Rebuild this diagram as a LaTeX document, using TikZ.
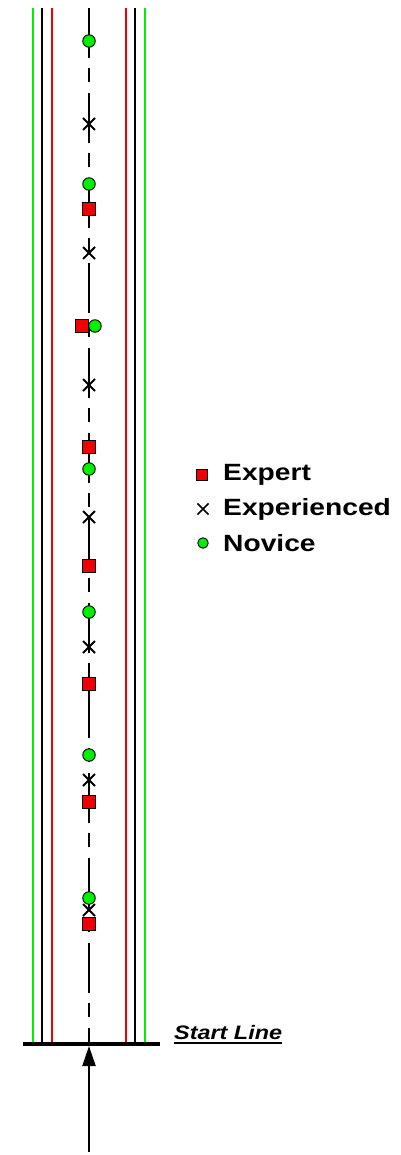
\documentclass[tikz,border=0pt]{standalone}
\usepackage{fontspec}
\setmainfont{Liberation Sans}
\newfontfamily\legfont[FakeStretch=1.2]{Liberation Sans}
\usetikzlibrary{shapes.misc,arrows.meta}
\definecolor{lgreen}{RGB}{0,240,0}
\definecolor{lred}{RGB}{240,0,0}
\tikzset{
  lane/.style={line width=2pt},
  nov/.style={circle,draw=black,line width=0.9pt,fill=lgreen,minimum size=12.5pt,inner sep=0pt},
  exp/.style={rectangle,draw=black,line width=0.9pt,fill=lred,minimum size=12.5pt,inner sep=0pt},
  xpd/.style={cross out,draw=black,line width=2pt,minimum size=10pt,inner sep=0pt},
  lnov/.style={nov,minimum size=10.5pt},
  lexp/.style={exp,minimum size=11pt},
  lxpd/.style={xpd,line width=1.7pt,minimum size=9.5pt},
  legtext/.style={anchor=west,inner sep=0pt,font=\legfont\bfseries\fontsize{23.5}{23.5}\selectfont},
}
\begin{document}
\begin{tikzpicture}[x=1pt,y=-1pt]
\useasboundingbox (0,0) rectangle (400,1155);
% lane lines
\foreach \xx/\cc [count=\i] in {33/lgreen,42/black,52/lred,126/lred,135/black,145/lgreen}{
  \coordinate (t\i) at (\xx,8);
  \coordinate (b\i) at (\xx,1043);
  \draw[lane,draw=\cc] (t\i) -- (b\i);
}
% centre line
\coordinate (ct) at (89,8);
\coordinate (cb) at (89,1043);
\draw[line width=2pt,dash pattern=on 50pt off 10pt on 14pt off 11pt] (ct) -- (cb);
% start line
\coordinate (sl1) at (23,1044);
\coordinate (sl2) at (160,1044);
\draw[line width=4pt] (sl1) -- (sl2);
\coordinate (ab) at (89,1152);
\coordinate (at) at (89,1046);
\draw[line width=2pt,-{Triangle[length=20pt,width=13pt]}] (ab) -- (at);
\node[anchor=base west,inner sep=0pt,font=\legfont\bfseries\itshape\fontsize{19.5}{19.5}\selectfont] (sl) at (174,1039) {Start Line};
\draw[line width=1.5pt] ([yshift=-4pt]sl.base west) -- ([yshift=-4pt]sl.base east);
% markers
\node[nov] (n1) at (89,41) {};
\node[xpd] (x1) at (89,124) {};
\node[nov] (n2) at (89,184) {};
\node[exp] (e1) at (89,209) {};
\node[xpd] (x2) at (89,253) {};
\node[exp] (e2) at (82,326) {};
\node[nov] (n3) at (95,326) {};
\node[xpd] (x3) at (89,385) {};
\node[exp] (e3) at (89,447) {};
\node[nov] (n4) at (89,469) {};
\node[xpd] (x4) at (89,517) {};
\node[exp] (e4) at (89,566) {};
\node[nov] (n5) at (89,612) {};
\node[xpd] (x5) at (89,647) {};
\node[exp] (e5) at (89,684) {};
\node[nov] (n6) at (89,755) {};
\node[xpd] (x6) at (89,780) {};
\node[exp] (e6) at (89,802) {};
\node[nov] (n7) at (89,898) {};
\node[xpd] (x7) at (89,910) {};
\node[exp] (e7) at (89,924) {};
% legend
\node[lexp] (le) at (202,475) {};
\node[lxpd] (lx) at (203,509) {};
\node[lnov] (ln) at (203,543) {};
\node[legtext] (te) at (223,475) {Expert};
\node[legtext] (tx) at (223,509) {Experienced};
\node[legtext] (tn) at (223,543) {Novice};
\end{tikzpicture}
\end{document}
